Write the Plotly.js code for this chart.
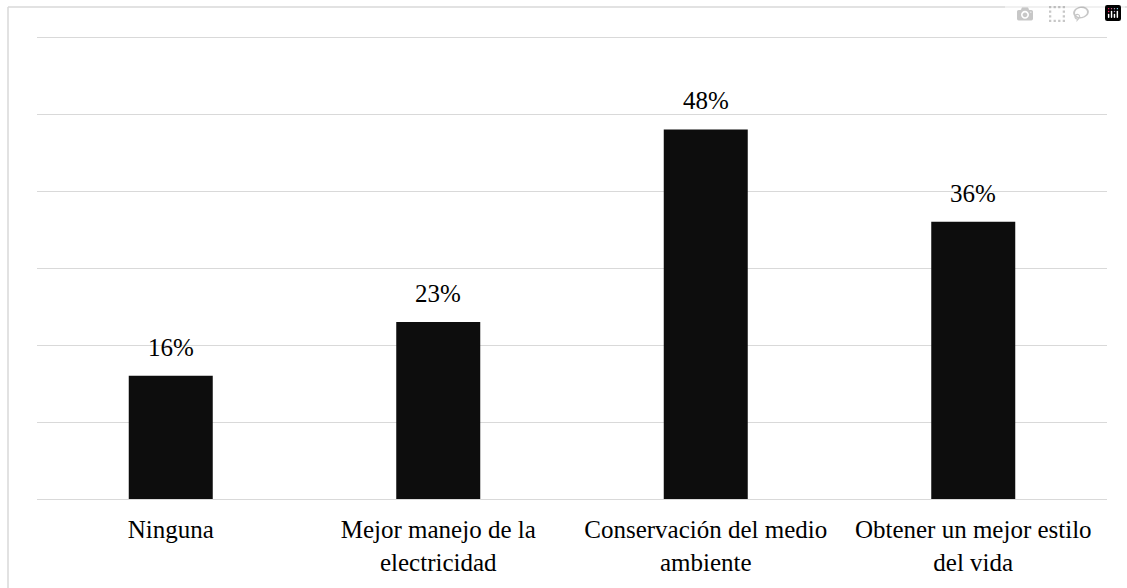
<!DOCTYPE html>
<html>
<head>
<meta charset="utf-8">
<script src="https://cdn.plot.ly/plotly-3.0.1.min.js"></script>
</head>
<body style="margin:0;background:#fff">
<div id="chart" style="width:1127px;height:588px"></div>
<script>
const categories = ["Ninguna", "Mejor manejo de la<br>electricidad", "Conservación del medio<br>ambiente", "Obtener un mejor estilo<br>del vida"];
const values = [16, 23, 48, 36];
const valueLabels = ["16%", "23%", "48%", "36%"];

const trace = {
  type: "bar",
  x: categories,
  y: values,
  marker: {color: "#0d0d0d"},
  hoverinfo: "none"
};

const annotations = categories.map((c, i) => ({
  x: c, y: values[i], xref: "x", yref: "y",
  text: valueLabels[i], showarrow: false,
  yanchor: "bottom", yshift: 13,
  font: {family: "Liberation Serif", size: 25, color: "#000"}
}));

const layout = {
  width: 1127, height: 588,
  margin: {l: 37, r: 20, t: 35, b: 89},
  paper_bgcolor: "#fff", plot_bgcolor: "#fff",
  bargap: 0.686,
  showlegend: false,
  xaxis: {
    showgrid: false, showline: true, linecolor: "#d9d9d9", linewidth: 1.3,
    ticks: "", tickfont: {family: "Liberation Serif", size: 25, color: "#000"},
    ticklabelstandoff: 8, fixedrange: true
  },
  yaxis: {
    range: [0, 60.27], tickvals: [0, 10, 20, 30, 40, 50, 60], showgrid: true, gridcolor: "#d9d9d9", gridwidth: 1.3,
    showticklabels: false, zeroline: false, showline: false, ticks: "", fixedrange: true
  },
  shapes: [
    {type: "line", xref: "paper", yref: "paper", x0: -0.0271, x1: -0.0271, y0: -0.3, y1: 1.0603, line: {color: "#d9d9d9", width: 1.5}},
    {type: "line", xref: "paper", yref: "paper", x0: -0.0271, x1: 1.05, y0: 1.0603, y1: 1.0603, line: {color: "#d9d9d9", width: 1.5}}
  ],
  annotations: annotations
};

Plotly.newPlot("chart", [trace], layout);
</script>
</body>
</html>
